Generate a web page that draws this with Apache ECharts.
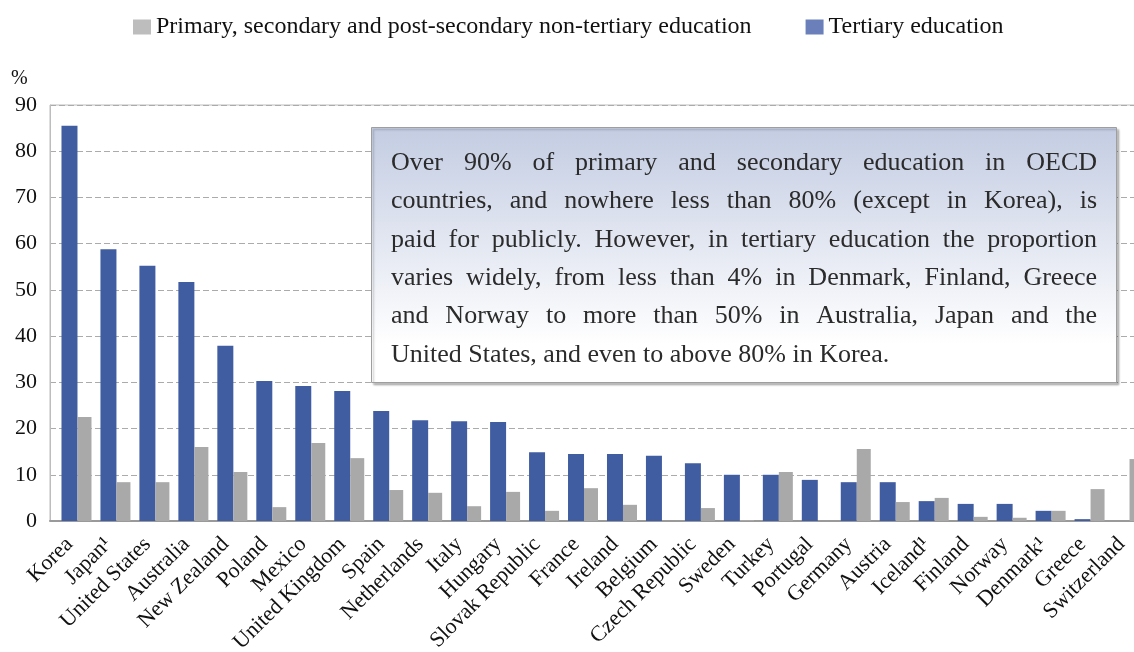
<!DOCTYPE html>
<html>
<head>
<meta charset="utf-8">
<script src="https://cdn.jsdelivr.net/npm/echarts@6/dist/echarts.min.js"></script>
<style>
html, body { margin: 0; padding: 0; background: #fff; }
#chart { width: 1134px; height: 652px; }
</style>
</head>
<body>
<div id="chart"></div>
<script>
const countries = ['Korea', 'Japan¹', 'United States', 'Australia', 'New Zealand', 'Poland', 'Mexico',
  'United Kingdom', 'Spain', 'Netherlands', 'Italy', 'Hungary', 'Slovak Republic', 'France', 'Ireland',
  'Belgium', 'Czech Republic', 'Sweden', 'Turkey', 'Portugal', 'Germany', 'Austria', 'Iceland¹',
  'Finland', 'Norway', 'Denmark¹', 'Greece', 'Switzerland']
const tertiary = [85.5, 58.8, 55.2, 51.7, 37.9, 30.3, 29.2, 28.1, 23.8, 21.8, 21.6, 21.4, 14.9, 14.5,
  14.5, 14.1, 12.5, 10.0, 10.0, 8.9, 8.4, 8.4, 4.3, 3.7, 3.7, 2.2, 0.4, null]
const nonTertiary = [22.5, 8.4, 8.4, 16.0, 10.6, 3.0, 16.9, 13.6, 6.7, 6.1, 3.2, 6.3, 2.2, 7.1,
  3.5, null, 2.8, 0.2, 10.6, null, 15.6, 4.1, 5.0, 0.9, 0.7, 2.2, 6.9, 13.4]
const yMin = 0, yMax = 90, yStep = 10

const nameNonTertiary = 'Primary, secondary and post-secondary non-tertiary education'
const nameTertiary = 'Tertiary education'

const noteLines = [
  'Over 90% of primary and secondary education in OECD',
  'countries, and nowhere less than 80% (except in Korea), is',
  'paid for publicly. However, in tertiary education the proportion',
  'varies widely, from less than 4% in Denmark, Finland, Greece',
  'and Norway to more than 50% in Australia, Japan and the',
  'United States, and even to above 80% in Korea.'
]

const serif = '"Liberation Serif", "DejaVu Serif", serif'

// justified paragraph for the note box, one text per word
function noteText(left, right, tops) {
  const ctx = document.createElement('canvas').getContext('2d')
  let fs = 26
  ctx.font = fs + 'px ' + serif
  const widest = Math.max(...noteLines.map(l => ctx.measureText(l).width))
  if (widest > right - left) fs = Math.floor(fs * (right - left) / widest * 10) / 10
  ctx.font = fs + 'px ' + serif
  const out = []
  noteLines.forEach((line, i) => {
    const words = line.split(' ')
    const last = i === noteLines.length - 1
    const wordsW = words.reduce((s, w) => s + ctx.measureText(w).width, 0)
    const gap = last ? ctx.measureText(' ').width : (right - left - wordsW) / (words.length - 1)
    let x = left
    words.forEach(w => {
      out.push({
        type: 'text', x: x, y: tops[i], z: 101,
        style: { text: w, fontSize: fs, fontFamily: serif, fill: '#2b2b2b', verticalAlign: 'middle' }
      })
      x += ctx.measureText(w).width + gap
    })
  })
  return out
}

const chart = echarts.init(document.getElementById('chart'))
const gridBox = { top: 105, bottom: 131, right: -7, outerBoundsMode: 'none', containLabel: false }

chart.setOption({
  animation: false,
  legend: {
    left: 128, top: 10, itemWidth: 18, itemHeight: 15, itemGap: 54,
    icon: 'rect',
    textStyle: { fontFamily: serif, fontSize: 24, color: '#111' },
    data: [
      { name: nameNonTertiary, itemStyle: { color: '#bdbdbd' } },
      { name: nameTertiary, itemStyle: { color: '#6b80ba' } }
    ]
  },
  grid: [
    Object.assign({ left: 50, show: true, borderColor: '#bdbdbd', borderWidth: 1 }, gridBox),
    Object.assign({ left: 65 }, gridBox, { right: -22 })
  ],
  xAxis: [
    {
      type: 'category', gridIndex: 0, data: countries,
      axisTick: { show: false },
      axisLine: { lineStyle: { color: '#9a9a9a', width: 2 } },
      axisLabel: { interval: 0, rotate: 45, margin: 20, fontFamily: serif, fontSize: 22, color: '#111' }
    },
    { type: 'category', gridIndex: 1, data: countries, show: false }
  ],
  yAxis: [
    {
      type: 'value', gridIndex: 0, min: yMin, max: yMax, interval: yStep,
      axisLine: { show: true, lineStyle: { color: '#bdbdbd' } },
      axisTick: { show: false },
      axisLabel: { margin: 13, fontFamily: serif, fontSize: 22, color: '#111' },
      splitLine: { lineStyle: { color: '#ababab', type: [6, 3] } }
    },
    { type: 'value', gridIndex: 1, min: yMin, max: yMax, interval: yStep, show: false, splitLine: { show: false } }
  ],
  series: [
    {
      name: nameTertiary, type: 'bar', xAxisIndex: 0, yAxisIndex: 0,
      data: tertiary, barWidth: 16, itemStyle: { color: '#415da1' }
    },
    {
      name: nameNonTertiary, type: 'bar', xAxisIndex: 1, yAxisIndex: 1,
      data: nonTertiary, barWidth: 14, itemStyle: { color: '#a9a9a9' }
    }
  ],
  graphic: [
    { type: 'text', x: 11, y: 79, style: { text: '%', fontFamily: serif, fontSize: 20, fill: '#111', verticalAlign: 'middle' } },
    {
      type: 'rect', z: 100,
      shape: { x: 371.5, y: 127.5, width: 745, height: 255 },
      style: {
        fill: new echarts.graphic.LinearGradient(0, 0, 0, 1, [
          { offset: 0, color: '#c3cce2' },
          { offset: 0.85, color: '#ffffff' },
          { offset: 1, color: '#ffffff' }
        ]),
        stroke: '#9e9e9e', lineWidth: 1,
        shadowColor: 'rgba(0,0,0,0.25)', shadowOffsetX: 2, shadowOffsetY: 2, shadowBlur: 2
      }
    }
  ].concat(noteText(391, 1097, [163, 201, 240, 278, 316, 355]))
})
</script>
</body>
</html>
